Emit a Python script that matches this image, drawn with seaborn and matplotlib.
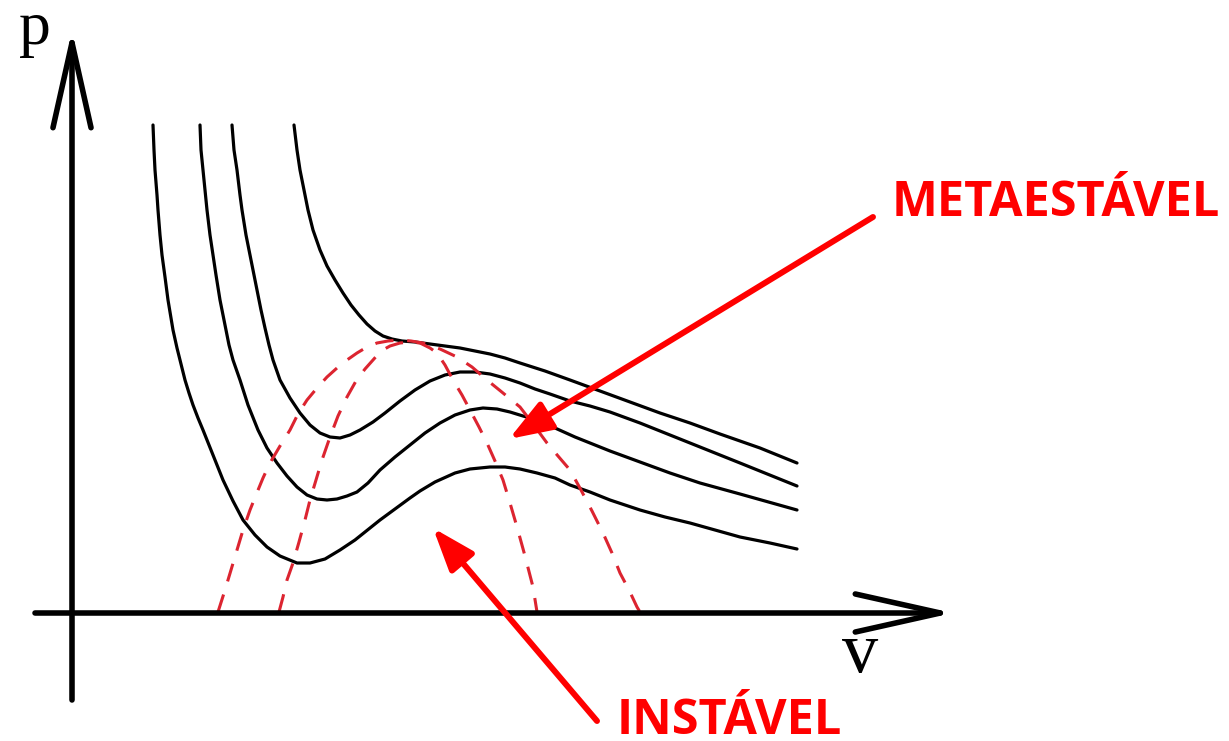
import matplotlib.pyplot as plt
import seaborn as sns
import pandas as pd

sns.set_theme(style="white")

# isotherms (pixel units, y grows downward)
iso1_x = [294, 297, 300, 304, 308, 313, 320, 327, 335, 343, 351, 359, 367, 375, 383, 392, 402, 415, 430, 445,
          460, 475, 490, 505, 520, 545, 570, 600, 630, 660, 690, 720, 760, 797]
iso1_y = [125, 150, 170, 190, 210, 230, 250, 266, 280, 293, 305, 315, 324, 331, 336, 339, 341, 342, 344, 346,
          348, 351, 354, 358, 363, 371, 380, 391, 402, 413, 423, 434, 448, 463]

iso2_x = [232, 234, 237, 240, 242, 246, 250, 253, 257, 261, 265, 269, 273, 280, 290, 300, 310, 320, 330, 340,
          350, 360, 373, 385, 400, 415, 430, 445, 460, 475, 490, 505, 520, 535, 550, 570, 590, 610, 640, 670,
          700, 740, 797]
iso2_y = [125, 150, 170, 195, 210, 235, 255, 270, 290, 310, 328, 345, 360, 380, 398, 413, 425, 433, 437, 438,
          435, 430, 422, 413, 401, 390, 381, 375, 372, 372, 374, 378, 383, 389, 394, 401, 406, 412, 423, 435,
          447, 463, 486]

iso3_x = [200, 201, 203, 205, 207, 210, 213, 216, 220, 225, 229, 233, 240, 248, 258, 267, 277, 287, 297, 307,
          317, 327, 337, 347, 357, 368, 380, 395, 410, 425, 440, 455, 470, 483, 497, 510, 523, 537, 555, 575,
          590, 610, 640, 670, 700, 740, 797]
iso3_y = [125, 150, 170, 190, 210, 235, 255, 275, 300, 325, 345, 360, 380, 405, 430, 448, 463, 476, 487, 495,
          499, 500, 499, 496, 492, 483, 470, 457, 445, 433, 423, 415, 410, 408, 409, 412, 416, 420, 428, 437,
          443, 451, 462, 473, 483, 494, 510]

iso4_x = [153, 154, 155, 157, 158, 160, 162, 165, 168, 173, 177, 180, 185, 189, 193, 198, 203, 213, 223, 233,
          243, 255, 267, 280, 297, 310, 325, 340, 355, 370, 380, 395, 410, 420, 435, 455, 470, 490, 505, 520,
          537, 555, 570, 590, 610, 640, 665, 690, 715, 740, 770, 797]
iso4_y = [125, 150, 170, 195, 210, 235, 255, 277, 300, 330, 348, 360, 380, 393, 405, 418, 430, 455, 480, 501,
          520, 535, 547, 556, 563, 563, 559, 550, 540, 528, 520, 509, 498, 491, 482, 473, 469, 467, 467, 469,
          473, 478, 485, 492, 500, 510, 517, 523, 530, 537, 543, 549]

# dashed domes
outer_x = [218, 225, 231, 237, 243, 250, 256, 263, 270, 280, 290, 298, 307, 317, 327, 337, 347, 357, 367, 377,
           388, 400, 411, 423, 440, 457, 472, 487, 503, 520, 533, 547, 558, 570, 581, 592, 603, 612, 620, 629,
           637, 640]
outer_y = [612, 590, 570, 550, 530, 510, 495, 478, 463, 446, 430, 414, 400, 388, 377, 368, 360, 353, 347, 343,
           341, 340, 341, 343, 349, 357, 367, 380, 393, 407, 424, 443, 456, 470, 490, 511, 533, 553, 573, 590,
           607, 612]

inner_x = [279, 283, 287, 293, 299, 305, 310, 316, 322, 330, 338, 347, 356, 365, 373, 381, 390, 400, 410, 420,
           430, 437, 445, 453, 462, 470, 479, 487, 495, 503, 510, 517, 525, 533, 537]
inner_y = [612, 597, 580, 563, 542, 520, 500, 480, 460, 437, 416, 397, 381, 369, 360, 351, 346, 343, 342, 343,
           348, 353, 365, 380, 395, 410, 427, 443, 461, 480, 503, 527, 556, 587, 612]

labels = {"p": (35, 44), "v": (860, 672)}
notes = ["METAESTÁVEL", "INSTÁVEL"]

fig = plt.figure(figsize=(12.29, 7.41), dpi=100)
ax = fig.add_axes([0, 0, 1, 1])
ax.set_xlim(0, 1229)
ax.set_ylim(741, 0)
ax.axis("off")

for xs, ys in [(iso1_x, iso1_y), (iso2_x, iso2_y), (iso3_x, iso3_y), (iso4_x, iso4_y)]:
    df = pd.DataFrame({"v": xs, "p": ys})
    sns.lineplot(data=df, x="v", y="p", ax=ax, color="black", lw=2.3,
                 sort=False, estimator=None)

for xs, ys in [(outer_x, outer_y), (inner_x, inner_y)]:
    df = pd.DataFrame({"v": xs, "p": ys})
    sns.lineplot(data=df, x="v", y="p", ax=ax, color="#dc2430", lw=2.2,
                 sort=False, estimator=None, linestyle=(0, (6, 4.5)))

ax.set_xlabel("")
ax.set_ylabel("")

# axes with open arrow heads
k = 1 / 1.389
axis_style = f"->,head_length={85 * k:.1f},head_width={19 * k:.1f}"
ax.annotate("", xy=(72, 30), xytext=(72, 700),
            arrowprops=dict(arrowstyle=axis_style, color="black", lw=4.0,
                            mutation_scale=1, shrinkA=0, shrinkB=0))
ax.annotate("", xy=(953, 613), xytext=(35, 613),
            arrowprops=dict(arrowstyle=axis_style, color="black", lw=4.0,
                            mutation_scale=1, shrinkA=0, shrinkB=0))

ax.text(*labels["p"], "p", family="Liberation Serif", fontsize=46,
        ha="center", va="baseline", color="black")
ax.text(*labels["v"], "v", family="Liberation Serif", fontsize=52,
        ha="center", va="baseline", color="black")

# red callouts
red_style = f"-|>,head_length={36 * k:.1f},head_width={13 * k:.1f}"
ax.annotate("", xy=(509, 439), xytext=(873, 217),
            arrowprops=dict(arrowstyle=red_style, color="red", lw=4.3,
                            mutation_scale=1, shrinkA=0, shrinkB=0))
ax.annotate("", xy=(433, 528), xytext=(597, 721),
            arrowprops=dict(arrowstyle=red_style, color="red", lw=4.3,
                            mutation_scale=1, shrinkA=0, shrinkB=0))

ax.text(892, 216, notes[0], family="Open Sans", fontweight="bold",
        fontsize=35, color="red", ha="left", va="baseline")
ax.text(617, 734, notes[1], family="Open Sans", fontweight="bold",
        fontsize=35, color="red", ha="left", va="baseline")

fig.savefig("out.png", dpi=100, facecolor="white")
